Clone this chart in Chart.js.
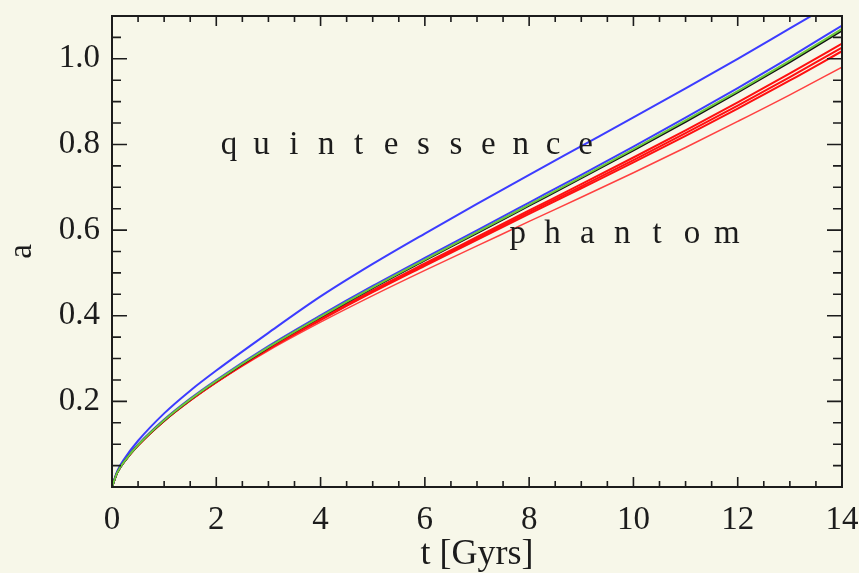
<!DOCTYPE html>
<html><head><meta charset="utf-8">
<script src="https://cdn.jsdelivr.net/npm/chart.js@4"></script>
<style>html,body{margin:0;padding:0;background:#f7f7e9;overflow:hidden}canvas{display:block}</style>
</head><body>
<canvas id="c" width="859" height="573"></canvas>
<script>
// time axis [Gyrs]
const tGyr = [0,0.1,0.25,0.5,1,1.5,2,3,4,5,6,7,8,9,10,11,12,13,14];
// scale factor a(t) for each model
const quintUpper = [0,0.037,0.068,0.108,0.172,0.225,0.272,0.360,0.445,0.521,0.592,0.661,0.729,0.796,0.863,0.931,1.000,1.071,1.142];
const blueLower  = [0,0.0336,0.0623,0.099,0.1575,0.2066,0.250,0.3292,0.401,0.4695,0.535,0.5995,0.6643,0.7292,0.795,0.8625,0.9318,1.0034,1.0777];
const greenModel = [0,0.0336,0.0618,0.098,0.156,0.2046,0.248,0.3267,0.398,0.466,0.531,0.595,0.6593,0.7237,0.789,0.856,0.9248,0.9959,1.0697];
const blackModel = [0,0.0336,0.0618,0.098,0.1555,0.2041,0.247,0.3257,0.3968,0.4645,0.5292,0.593,0.6571,0.7212,0.7862,0.853,0.9215,0.9923,1.0657];
const phantom1   = [0,0.0336,0.0616,0.0975,0.155,0.2031,0.246,0.3237,0.393,0.459,0.522,0.584,0.6458,0.7072,0.7695,0.833,0.8983,0.9659,1.0357];
const phantom2   = [0,0.0336,0.0615,0.0973,0.1547,0.2026,0.2454,0.3227,0.3915,0.457,0.5193,0.5807,0.6418,0.7022,0.7635,0.8263,0.8908,0.9574,1.0262];
const phantom3   = [0,0.0336,0.0615,0.0972,0.1544,0.2022,0.2448,0.3219,0.390,0.455,0.5166,0.5774,0.6378,0.6977,0.758,0.820,0.8838,0.9494,1.0177];
const phantom4   = [0,0.0336,0.0615,0.0972,0.154,0.2016,0.244,0.3187,0.385,0.447,0.506,0.563,0.6203,0.6767,0.734,0.793,0.8538,0.9159,0.9807];
// tick labels
const xTicks = [0,2,4,6,8,10,12,14];
const yTicks = [0.2,0.4,0.6,0.8,1.0];
const xTitle = 't [Gyrs]';
const yTitle = 'a';
const labelQuint = 'quintessence';
const labelPhantom = 'phantom';

const FONT = "'Liberation Serif', 'Times New Roman', serif";
const INK = '#1c1c1c';

function pts(arr){ return tGyr.map((t,i)=>({x:t,y:arr[i]})); }
function ds(arr,color,w){ return {data:pts(arr),borderColor:color,borderWidth:w,pointRadius:0,fill:false,cubicInterpolationMode:'monotone'}; }

const framePlugin = {
  id:'frame',
  beforeDraw(chart){
    const c=chart.ctx; c.save(); c.fillStyle='#f7f7e9'; c.fillRect(0,0,chart.width,chart.height); c.restore();
  },
  afterDatasetsDraw(chart){
    const {ctx, chartArea:{left,right,top,bottom}, scales:{x,y}} = chart;
    ctx.save();
    ctx.strokeStyle=INK; ctx.lineWidth=2;
    ctx.strokeRect(left,top,right-left,bottom-top);
    ctx.lineWidth=1.6;
    ctx.beginPath();
    for(let k=1;k<28;k++){
      const v=k*0.5, px=x.getPixelForValue(v), L=(k%4===0)?10:6;
      ctx.moveTo(px,bottom); ctx.lineTo(px,bottom-L);
      ctx.moveTo(px,top); ctx.lineTo(px,top+L);
    }
    for(let k=1;k<22;k++){
      const v=k*0.05, py=y.getPixelForValue(v), L=(k%4===0)?15:9;
      ctx.moveTo(left,py); ctx.lineTo(left+L,py);
      ctx.moveTo(right,py); ctx.lineTo(right-L,py);
    }
    ctx.stroke();
    // text annotations placed in data coordinates
    ctx.fillStyle=INK; ctx.font="33px "+FONT; ctx.textAlign='center'; ctx.textBaseline='alphabetic';
    const spread=(txt,t0,t1,aBase)=>{
      const x0=x.getPixelForValue(t0), x1=x.getPixelForValue(t1), yb=y.getPixelForValue(aBase);
      const n=txt.length;
      for(let i=0;i<n;i++){ ctx.fillText(txt[i], x0+(x1-x0)*i/(n-1), yb); }
    };
    spread(labelQuint,2.245,9.08,0.778);
    spread(labelPhantom,7.78,11.79,0.570);
    ctx.restore();
  }
};

new Chart(document.getElementById('c'),{
  type:'line',
  data:{datasets:[
    ds(greenModel,'#6cc83c',2),
    ds(blackModel,'#111111',2),
    ds(blueLower,'#3c3cff',2),
    ds(quintUpper,'#3c3cff',2),
    ds(phantom1,'#ff1010',2),
    ds(phantom2,'#ff1010',2),
    ds(phantom3,'#ff1010',2),
    ds(phantom4,'#ff4040',1.5)
  ]},
  options:{
    responsive:false, animation:false, devicePixelRatio:1,
    layout:{padding:{left:0,top:16,right:17,bottom:0}},
    plugins:{legend:{display:false},tooltip:{enabled:false}},
    scales:{
      x:{type:'linear',min:0,max:14,
        afterFit(s){s.height=86; s.paddingLeft=0; s.paddingRight=0;},
        afterBuildTicks(s){s.ticks=xTicks.map(v=>({value:v}));},
        grid:{display:false,drawTicks:false},border:{display:false},
        ticks:{font:{family:FONT,size:33,lineHeight:1},color:INK,padding:17,maxRotation:0,autoSkip:false,callback:v=>String(v)},
        title:{display:true,text:xTitle,color:INK,font:{family:FONT,size:36,lineHeight:1},padding:{top:0,bottom:0}}
      },
      y:{type:'linear',min:0,max:1.1,
        afterFit(s){s.width=112; s.paddingTop=0; s.paddingBottom=0;},
        afterBuildTicks(s){s.ticks=yTicks.map(v=>({value:v}));},
        grid:{display:false,drawTicks:false},border:{display:false},
        ticks:{font:{family:FONT,size:33,lineHeight:0.9},color:INK,padding:12,autoSkip:false,callback:v=>Number(v).toFixed(1)},
        title:{display:true,text:yTitle,color:INK,font:{family:FONT,size:33,lineHeight:1},padding:{top:6,bottom:0}}
      }
    }
  },
  plugins:[framePlugin]
});
</script>
</body></html>
